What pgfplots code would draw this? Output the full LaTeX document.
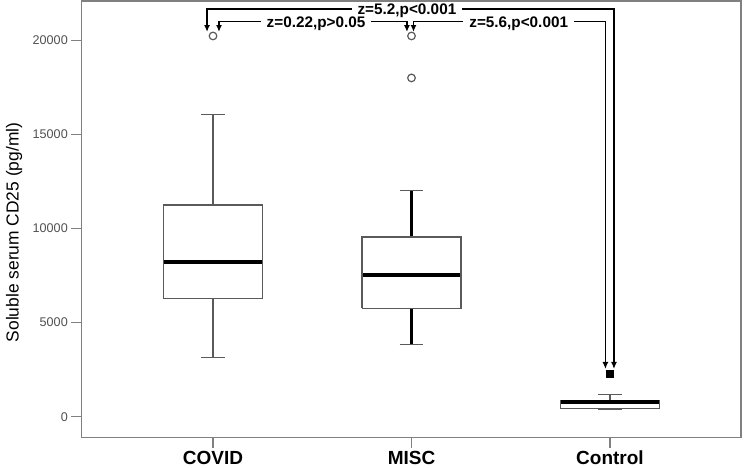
\documentclass[border=0pt]{standalone}
\usepackage{fontspec}
\setmainfont{Liberation Sans}
\usepackage{pgfplots}
\pgfplotsset{compat=1.18}
\usetikzlibrary{arrows.meta}
\definecolor{axgray}{HTML}{808080}
\definecolor{boxgray}{HTML}{5A5A5A}
\definecolor{ticktext}{HTML}{505050}
\tikzset{ann/.style={black, line width=1.4pt, {Latex[length=7pt,width=6pt]}-{Latex[length=7pt,width=6pt]}},
  annt/.style={fill=white, inner xsep=6pt, inner ysep=1pt, anchor=base, font=\bfseries\fontsize{15.3}{16}\selectfont}}
\begin{document}
\begin{tikzpicture}
\path[use as bounding box] (0pt,0pt) rectangle (744pt,468pt);
\begin{axis}[
  at={(81.3pt,30.3pt)}, anchor=south west,
  scale only axis, width=659.7pt, height=436.7pt,
  xmin=0.3365, xmax=3.66, ymin=-1116, ymax=22088,
  axis line style={axgray, line width=1.3pt},
  xtick={1,2,3}, xticklabels={COVID,MISC,Control},
  ytick={0,5000,10000,15000,20000},
  tick align=outside, major tick length=10pt,
  tick pos=left,
  tick style={axgray, line width=1.3pt},
  scaled y ticks=false,
  /pgf/number format/assume math mode=true,
  /pgf/number format/1000 sep={},
  yticklabel style={font=\fontsize{12.6}{14}\selectfont, text=ticktext},
  xticklabel style={font=\bfseries\fontsize{19}{21}\selectfont, text=black},
  ylabel={Soluble serum CD25 (pg/ml)},
  ylabel style={at={(axis description cs:-0.102,0.47)}, anchor=center, font=\fontsize{17.4}{19}\selectfont},
  clip=false,
  boxst/.style={draw=boxgray, line width=1.5pt, line join=miter, mark=none},
  whst/.style={draw=boxgray, line width=1.5pt, mark=none},
  medst/.style={draw=black, line width=4pt, mark=none},
]
% ---- COVID: whiskers 3156 / 16046, box 6291-11249, median 8236
\addplot[whst] coordinates {(1,11249) (1,16046)};
\addplot[whst] coordinates {(1,6291) (1,3156)};
\addplot[whst] coordinates {(0.94,16046) (1.06,16046)};
\addplot[whst] coordinates {(0.94,3156) (1.06,3156)};
\addplot[boxst] coordinates {(0.75,6291) (1.25,6291) (1.25,11249) (0.75,11249) (0.75,6291)};
\addplot[medst] coordinates {(0.755,8236) (1.245,8236)};
% ---- MISC: whiskers 3826 / 12009, box 5760-9548, median 7529
\addplot[whst, draw=black, line width=2.5pt] coordinates {(2,9548) (2,12009)};
\addplot[whst, draw=black, line width=2.5pt] coordinates {(2,5760) (2,3826)};
\addplot[whst] coordinates {(1.94,12009) (2.06,12009)};
\addplot[whst] coordinates {(1.94,3826) (2.06,3826)};
\addplot[boxst] coordinates {(1.75,5760) (2.25,5760) (2.25,9548) (1.75,9548) (1.75,5760)};
\addplot[medst] coordinates {(1.755,7529) (2.245,7529)};
% ---- Control: whiskers 383 / 1170, box 425-861, median 781
\addplot[whst] coordinates {(3,861) (3,1170)};
\addplot[whst] coordinates {(2.94,1170) (3.06,1170)};
\addplot[whst] coordinates {(2.94,383) (3.06,383)};
\addplot[boxst] coordinates {(2.75,425) (3.25,425) (3.25,861) (2.75,861) (2.75,425)};
\addplot[medst] coordinates {(2.755,781) (3.245,781)};
% ---- outliers
\addplot[only marks, mark=o, mark size=3.8pt, mark options={draw=boxgray, fill=white, line width=1.2pt}]
  coordinates {(1,20230) (2,20230) (2,18000)};
\addplot[only marks, mark=square*, mark size=3.5pt, mark options={draw=black, fill=black}]
  coordinates {(3,2265)};
% ---- annotations
\draw[ann] (axis cs:0.970,20440) |- (axis cs:3.020,21663) -- (axis cs:3.020,2535);
\draw[ann] (axis cs:1.030,20440) |- (axis cs:1.977,20988) -- (axis cs:1.977,20440);
\draw[ann] (axis cs:2.010,20440) |- (axis cs:2.977,20988) -- (axis cs:2.977,2535);
\node[annt] at (axis cs:1.977,21371) {z=5.2,p<0.001};
\node[annt] at (axis cs:1.519,20696) {z=0.22,p>0.05};
\node[annt] at (axis cs:2.54,20696) {z=5.6,p<0.001};
\end{axis}
\end{tikzpicture}
\end{document}
